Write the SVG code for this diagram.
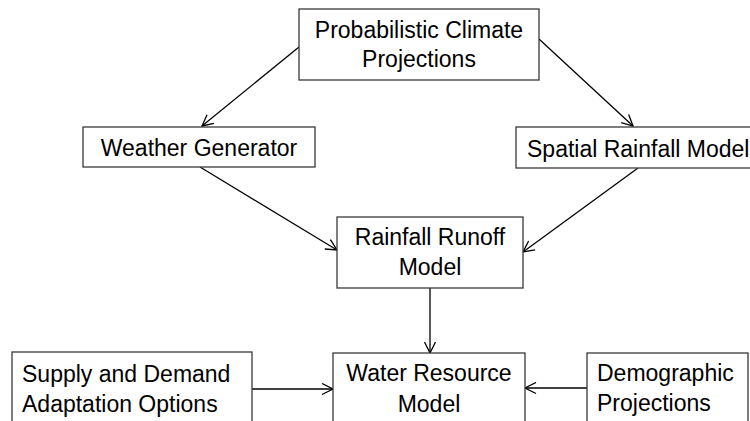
<svg xmlns="http://www.w3.org/2000/svg" width="750" height="421" viewBox="0 0 750 421">
  <style>
    .box { fill: #ffffff; stroke: #3a3a3a; stroke-width: 1.3; }
    .lbl { font-family: "Liberation Sans", Arial, sans-serif; font-size: 23px; fill: #000000; }
    .mid { text-anchor: middle; }
    .conn { stroke: #000000; stroke-width: 1.3; fill: none; marker-end: url(#arrow); }
  </style>
  <defs>
    <marker id="arrow" markerWidth="13" markerHeight="13" refX="12" refY="6.5" orient="auto" markerUnits="userSpaceOnUse">
      <path d="M1,1 L12,6.5 L1,12" fill="none" stroke="#000000" stroke-width="1.3"/>
    </marker>
  </defs>
  <rect width="750" height="421" fill="#ffffff"/>

  <g id="connectors">
    <line class="conn" x1="299" y1="47" x2="202" y2="126"/>
    <line class="conn" x1="539" y1="39" x2="633" y2="126"/>
    <line class="conn" x1="200" y1="167" x2="337" y2="250"/>
    <line class="conn" x1="638" y1="168" x2="523" y2="252"/>
    <line class="conn" x1="430" y1="288" x2="430" y2="353"/>
    <line class="conn" x1="252" y1="389" x2="333" y2="389"/>
    <line class="conn" x1="587" y1="388" x2="525" y2="388"/>
  </g>

  <g id="probabilistic-climate-projections">
    <rect class="box" x="299" y="9" width="240" height="71"/>
    <text class="lbl mid" x="419" y="38">Probabilistic Climate</text>
    <text class="lbl mid" x="419" y="67">Projections</text>
  </g>

  <g id="weather-generator">
    <rect class="box" x="83" y="127" width="232" height="40"/>
    <text class="lbl mid" x="199" y="156">Weather Generator</text>
  </g>

  <g id="spatial-rainfall-model">
    <rect class="box" x="516" y="127" width="250" height="41"/>
    <text class="lbl" x="527" y="157">Spatial Rainfall Model</text>
  </g>

  <g id="rainfall-runoff-model">
    <rect class="box" x="337" y="217" width="186" height="71"/>
    <text class="lbl mid" x="430" y="245">Rainfall Runoff</text>
    <text class="lbl mid" x="430" y="275">Model</text>
  </g>

  <g id="supply-demand-adaptation">
    <rect class="box" x="12" y="352" width="240" height="80"/>
    <text class="lbl" x="22" y="382">Supply and Demand</text>
    <text class="lbl" x="22" y="412">Adaptation Options</text>
  </g>

  <g id="water-resource-model">
    <rect class="box" x="333" y="353" width="192" height="80"/>
    <text class="lbl mid" x="429" y="381">Water Resource</text>
    <text class="lbl mid" x="429" y="412">Model</text>
  </g>

  <g id="demographic-projections">
    <rect class="box" x="587" y="353" width="161" height="80"/>
    <text class="lbl" x="597" y="381">Demographic</text>
    <text class="lbl" x="597" y="411">Projections</text>
  </g>
</svg>
